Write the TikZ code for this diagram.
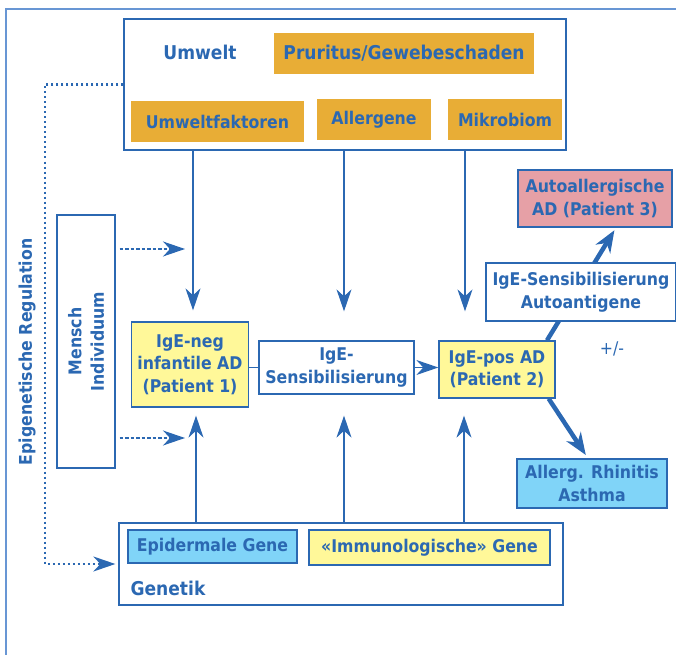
\documentclass[tikz,border=0pt]{standalone}
\usepackage{fontspec}
\setmainfont{DejaVu Sans Condensed}
\usetikzlibrary{arrows.meta, positioning, calc}
\definecolor{adblue}{RGB}{43,104,178}
\definecolor{adframe}{RGB}{104,150,212}
\definecolor{adorange}{RGB}{232,173,54}
\definecolor{adyellow}{RGB}{255,248,153}
\definecolor{adpink}{RGB}{230,160,166}
\definecolor{adcyan}{RGB}{128,212,248}

\begin{document}
\begin{tikzpicture}[x=1pt, y=-1pt,
    font=\fontsize{17.5}{22.5}\selectfont\bfseries, text=adblue,
    box/.style={rectangle, draw=adblue, line width=1.3pt, align=center, inner sep=0pt},
    tag/.style={rectangle, fill=adorange, align=center, inner sep=0pt},
    lbl/.style={font=\fontsize{19}{23}\selectfont\bfseries},
    arr/.style={draw=adblue, line width=1.2pt, -{Stealth[length=22pt, width=15pt, inset=7pt]}},
    darr/.style={arr, dash pattern=on 3.5pt off 2pt},
    dotarr/.style={arr, line width=2.2pt, dash pattern=on 2pt off 3pt},
    fat/.style={draw=adblue, line width=4.5pt, -{Stealth[length=22pt, width=17pt, inset=7pt]}}
]
    \useasboundingbox (0,0) rectangle (676,655);
    \draw[adframe, line width=1.3pt] (676,9) -| (6,655);

    \node[box, minimum width=442, minimum height=131] (umwelt) at (345,84.5) {};
    \node[lbl] (umweltlbl) at (200,52) {Umwelt};
    \node[tag, lbl, minimum width=260, minimum height=41] (pruritus) at (404,53.5) {Pruritus/Gewebeschaden};
    \node[tag, minimum width=173, minimum height=41] (faktoren) at (217.5,121.5) {Umweltfaktoren};
    \node[tag, minimum width=114, minimum height=41] (allergene) at (374,119.5) {Allergene};
    \node[tag, minimum width=114, minimum height=41] (mikrobiom) at (505,119.5) {Mikrobiom};

    \node[box, minimum width=58, minimum height=253] (mensch) at (86,341.5) {};
    \node[rotate=90, align=center] (menschlbl) at (mensch) {Mensch\\Individuum};
    \node[rotate=90] (epi) at (27,352) {Epigenetische Regulation};

    \node[box, fill=adyellow, minimum width=117, minimum height=85] (igeneg) at (190,364.5) {IgE-neg\\infantile AD\\(Patient 1)};
    \node[box, minimum width=155, minimum height=53] (sens) at (336.5,367.5) {IgE-\\Sensibilisierung};
    \node[box, fill=adyellow, minimum width=116, minimum height=57] (igepos) at (497,369.5) {IgE-pos AD\\(Patient 2)};
    \node[box, fill=adpink, minimum width=154, minimum height=57] (autoall) at (595,198.5) {Autoallergische\\AD (Patient 3)};
    \node[box, fill=adcyan, minimum width=150, minimum height=49] (allerg) at (592,483.5) {Allerg. Rhinitis\\Asthma};
    \node[font=\fontsize{17.5}{20}\selectfont\mdseries] (pm) at (612,349) {+/-};

    \node[box, minimum width=444, minimum height=82] (genetik) at (341,564) {};
    \node[box, fill=adcyan, minimum width=169, minimum height=33] (epid) at (212.5,546.5) {Epidermale Gene};
    \node[box, fill=adyellow, minimum width=241, minimum height=35] (immun) at (429.5,547.5) {«Immunologische» Gene};
    \node[lbl] (genlbl) at (168,588) {Genetik};

    \coordinate (m1) at (185,249);
    \coordinate (m2) at (185,438);

    \foreach \x/\n/\s in {193/igeneg/11, 344/sens/29, 465/igepos/29}
        \draw[arr, shorten >=\s pt] (\x,0 |- umwelt.south) -- (\x,0 |- \n.north);
    \foreach \x/\n/\s in {196/igeneg/8, 344/sens/21, 464/igepos/17}
        \draw[arr, shorten >=\s pt] (\x,0 |- genetik.north) -- (\x,0 |- \n.south);
    \draw[adblue, line width=1.3pt] (igeneg.east |- sens.west) -- (sens.west);
    \draw[arr] (sens.east) -- (sens.east -| igepos.west);
    \draw[darr, shorten <=4pt] (mensch.east |- m1) -- (m1);
    \draw[darr, shorten <=4pt] (mensch.east |- m2) -- (m2);
    \draw[dotarr, shorten >=3pt] (umwelt.west) -- ++(-78,0) |- (genetik.west);

    \draw[fat, shorten >=3pt] ([xshift=50pt]igepos.north) -- ([xshift=21pt]autoall.south);
    \draw[fat, shorten >=4pt] ([xshift=-7pt]igepos.south east) -- ([xshift=-4pt]allerg.north);
    \node[box, fill=white, minimum width=190, minimum height=58] (autoag) at (581,292) {IgE-Sensibilisierung\\Autoantigene};
\end{tikzpicture}
\end{document}
